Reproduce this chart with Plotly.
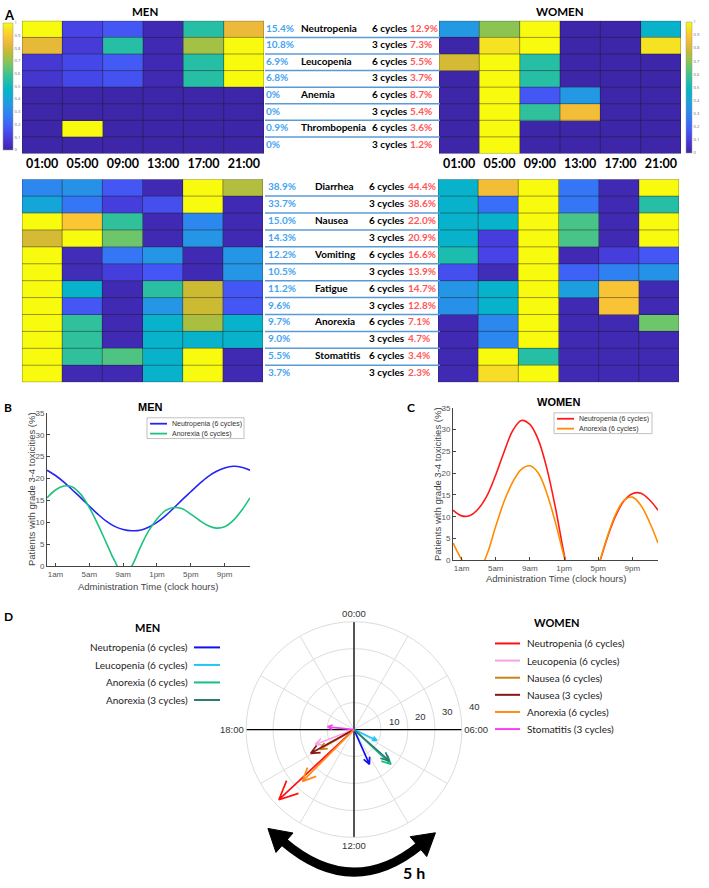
import math
import plotly.graph_objects as go

W, H = 709, 888

# ---------------- data ----------------
times = ["01:00", "05:00", "09:00", "13:00", "17:00", "21:00"]

men_top = [
    [1.00, 0.12, 0.17, 0.02, 0.55, 0.84],
    [0.83, 0.09, 0.55, 0.02, 0.73, 1.00],
    [0.08, 0.13, 0.18, 0.02, 0.55, 1.00],
    [0.07, 0.13, 0.16, 0.02, 0.55, 1.00],
    [0.00, 0.00, 0.00, 0.00, 0.00, 0.00],
    [0.00, 0.00, 0.00, 0.00, 0.00, 0.00],
    [0.00, 1.00, 0.00, 0.00, 0.00, 0.00],
    [0.00, 0.00, 0.00, 0.00, 0.00, 0.00],
]
women_top = [
    [0.36, 0.70, 1.00, 0.00, 0.00, 0.46],
    [0.00, 0.95, 1.00, 0.00, 0.00, 0.95],
    [0.80, 1.00, 0.55, 0.00, 0.00, 0.00],
    [0.00, 1.00, 0.55, 0.00, 0.00, 0.00],
    [0.00, 1.00, 0.17, 0.36, 0.00, 0.00],
    [0.00, 1.00, 0.57, 0.86, 0.00, 0.00],
    [0.00, 1.00, 0.00, 0.00, 0.00, 0.00],
    [0.00, 1.00, 0.00, 0.00, 0.00, 0.00],
]
men_bot = [
    [0.30, 0.34, 0.17, 0.02, 1.00, 0.75],
    [0.41, 0.25, 0.10, 0.15, 1.00, 0.02],
    [1.00, 0.89, 0.57, 0.02, 0.30, 0.02],
    [0.80, 1.00, 0.66, 0.02, 0.35, 0.02],
    [1.00, 0.03, 0.25, 0.35, 0.02, 0.35],
    [1.00, 0.03, 0.10, 0.17, 0.02, 0.35],
    [1.00, 0.46, 0.02, 0.56, 0.79, 0.17],
    [1.00, 0.17, 0.02, 0.35, 0.79, 0.17],
    [1.00, 0.57, 0.02, 0.46, 0.74, 0.46],
    [1.00, 0.57, 0.02, 0.46, 0.46, 0.46],
    [1.00, 0.57, 0.62, 0.46, 1.00, 0.02],
    [1.00, 0.02, 0.02, 0.46, 1.00, 0.02],
]
women_bot = [
    [0.46, 0.86, 1.00, 0.25, 0.02, 1.00],
    [0.46, 0.23, 1.00, 0.25, 0.02, 0.55],
    [0.46, 0.46, 1.00, 0.61, 0.02, 1.00],
    [0.46, 0.10, 1.00, 0.61, 0.02, 1.00],
    [0.53, 0.12, 1.00, 0.02, 0.10, 0.17],
    [0.15, 0.03, 1.00, 0.20, 0.28, 0.34],
    [0.35, 0.46, 1.00, 0.38, 0.88, 0.02],
    [0.33, 0.46, 1.00, 0.02, 0.88, 0.02],
    [0.02, 0.30, 1.00, 0.02, 0.02, 0.66],
    [0.02, 0.30, 1.00, 0.02, 0.02, 0.02],
    [0.02, 1.00, 0.55, 0.02, 0.02, 0.02],
    [0.02, 0.94, 1.00, 0.02, 0.02, 0.02],
]

top_names = ["Neutropenia", "", "Leucopenia", "", "Anemia", "", "Thrombopenia", ""]
top_cycles = ["6 cycles", "3 cycles"] * 4
men_top_pct = ["15.4%", "10.8%", "6.9%", "6.8%", "0%", "0%", "0.9%", "0%"]
women_top_pct = ["12.9%", "7.3%", "5.5%", "3.7%", "8.7%", "5.4%", "3.6%", "1.2%"]

bot_names = ["Diarrhea", "", "Nausea", "", "Vomiting", "", "Fatigue", "", "Anorexia", "", "Stomatitis", ""]
bot_cycles = ["6 cycles", "3 cycles"] * 6
men_bot_pct = ["38.9%", "33.7%", "15.0%", "14.3%", "12.2%", "10.5%", "11.2%", "9.6%", "9.7%", "9.0%", "5.5%", "3.7%"]
women_bot_pct = ["44.4%", "38.6%", "22.0%", "20.9%", "16.6%", "13.9%", "14.7%", "12.8%", "7.1%", "4.7%", "3.4%", "2.3%"]

cb_ticks = [0, 0.1, 0.2, 0.3, 0.4, 0.5, 0.6, 0.7, 0.8, 0.9, 1]
cb_text = ["0", "0.1", "0.2", "0.3", "0.4", "0.5", "0.6", "0.7", "0.8", "0.9", "1"]

# Panel B / C curves (hourly)
hours = list(range(25))
clock_ticks = [1, 5, 9, 13, 17, 21]
clock_text = ["1am", "5am", "9am", "1pm", "5pm", "9pm"]
men_neutropenia = [21.9, 20.7, 19.2, 17.4, 15.6, 13.7, 11.9, 10.3, 9.1, 8.4, 8.1, 8.2, 8.9,
                   10.0, 11.5, 13.3, 15.2, 17.0, 18.8, 20.4, 21.6, 22.4, 22.8, 22.6, 21.9]
men_anorexia = [15.6, 17.4, 18.3, 18.1, 16.4, 13.4, 9.6, 5.4, 1.2, -1.8, 0.0, 4.2, 8.0,
                10.8, 12.7, 13.4, 13.1, 11.9, 10.5, 9.3, 8.7, 9.0, 10.4, 12.7, 15.6]
women_neutropenia = [11.5, 10.2, 10.3, 11.9, 14.9, 19.6, 25.0, 29.8, 32.1, 31.2, 27.6, 21.0, 12.0,
                     1.5, -7.0, -10.0, -7.0, -1.5, 4.8, 10.0, 13.6, 15.3, 15.4, 13.9, 11.5]
women_anorexia = [4.0, 0.2, -2.6, -2.4, 1.5, 7.8, 13.6, 18.0, 20.9, 21.7, 20.0, 15.3, 8.6,
                  0.9, -6.0, -9.0, -7.0, -1.3, 5.0, 10.4, 13.7, 14.5, 12.6, 8.8, 4.0]

# Panel D vectors (length %, acrophase clock hours)
men_labels = ["Neutropenia (6 cycles)", "Leucopenia (6 cycles)", "Anorexia (6 cycles)", "Anorexia (3 cycles)"]
men_colors = ["#1010F5", "#22C4FA", "#17BD84", "#2B7D74"]
men_r = [14.1, 9.4, 18.8, 17.5]
men_hour = [10.4, 7.7, 8.88, 8.77]

women_labels = ["Neutropenia (6 cycles)", "Leucopenia (6 cycles)", "Nausea (6 cycles)",
                "Nausea (3 cycles)", "Anorexia (6 cycles)", "Stomatitis (3 cycles)"]
women_colors = ["#FF1010", "#F6A3E6", "#C8831C", "#8A1616", "#FF8A1A", "#F542F0"]
women_r = [38.1, 15.4, 14.6, 18.3, 27.1, 9.8]
women_hour = [15.13, 16.6, 15.99, 16.08, 14.99, 18.4]

radial_ticks = [10, 20, 30, 40]
angle_ticks = {0: "00:00", 90: "06:00", 180: "12:00", 270: "18:00"}

# ---------------- helpers ----------------
def fx(p):
    return p / W

def fy(p):
    return 1 - p / H

FONT_A = "Lato"
FONT_B = "Liberation Sans"

parula = [
    [0.00, "#3E26A8"], [0.06, "#4533C8"], [0.12, "#4743E6"], [0.18, "#435AF5"],
    [0.24, "#3672F8"], [0.30, "#2C87EE"], [0.36, "#2398E3"], [0.42, "#11A9D6"],
    [0.48, "#03B6C6"], [0.54, "#21BDAA"], [0.60, "#40C38E"], [0.66, "#6DC76A"],
    [0.72, "#9CC247"], [0.78, "#C7BA32"], [0.84, "#EDB93A"], [0.90, "#FDC831"],
    [0.95, "#F5E222"], [1.00, "#F9FB0E"],
]

fig = go.Figure()
layout = {}
annotations = []
shapes = []


def ann(text, x, y, size, color="black", xanchor="center", family=FONT_A, angle=0, yanchor="middle"):
    annotations.append(dict(text=text, x=fx(x), y=fy(y), xref="paper", yref="paper", showarrow=False,
                            xanchor=xanchor, yanchor=yanchor, textangle=angle,
                            font=dict(size=size, color=color, family=family)))


def ax_ids(i):
    s = "" if i == 1 else str(i)
    return "x" + s, "y" + s, "xaxis" + s, "yaxis" + s


def heat(i, z, xd, yd, show_ticks, colorbar=None):
    xid, yid, xk, yk = ax_ids(i)
    nr, nc = len(z), len(z[0])
    fig.add_trace(go.Heatmap(z=z, x=list(range(nc)), y=list(range(nr)), colorscale=parula,
                             zmin=0, zmax=1, showscale=colorbar is not None,
                             colorbar=colorbar, xaxis=xid, yaxis=yid, hoverinfo="skip"))
    xs, ys = [], []
    for r in range(nr + 1):
        xs += [-0.5, nc - 0.5, None]
        ys += [r - 0.5, r - 0.5, None]
    for c in range(nc + 1):
        xs += [c - 0.5, c - 0.5, None]
        ys += [-0.5, nr - 0.5, None]
    fig.add_trace(go.Scatter(x=xs, y=ys, mode="lines", line=dict(color="rgba(25,25,25,0.55)", width=0.8),
                             xaxis=xid, yaxis=yid, hoverinfo="skip", showlegend=False))
    layout[xk] = dict(domain=[fx(xd[0]), fx(xd[1])], range=[-0.5, nc - 0.5], anchor=yid,
                      showgrid=False, zeroline=False, ticks="",
                      showticklabels=show_ticks, tickvals=list(range(nc)),
                      ticktext=["<b>%s</b>" % t for t in times], ticklabelstandoff=1,
                      tickfont=dict(size=12.5, color="black", family=FONT_A))
    layout[yk] = dict(domain=[fy(yd[1]), fy(yd[0])], range=[nr - 0.5, -0.5], anchor=xid,
                      showgrid=False, zeroline=False, showticklabels=False, ticks="")


cb_common = dict(tickvals=cb_ticks, ticktext=cb_text, tickfont=dict(size=4, color="#666"),
                 outlinewidth=0.5, outlinecolor="#999", ticks="", xpad=0, ypad=0,
                 lenmode="fraction", thicknessmode="pixels", xanchor="left", yanchor="top")

heat(1, men_top, (22, 264), (17, 151), True,
     dict(x=fx(3), y=fy(19), len=(147 - 19) / H, thickness=10, **cb_common))
heat(2, women_top, (439, 681), (17, 151), True,
     dict(x=fx(686), y=fy(18), len=(150 - 18) / H, thickness=6, **cb_common))
heat(3, men_bot, (22, 263), (177, 382), False)
heat(4, women_bot, (438, 679), (177, 382), False)


def table(i, yd, names, cycles, mpct, wpct, cols):
    xid, yid, xk, yk = ax_ids(i)
    n = len(names)
    rows = list(range(n))
    lx = []
    ly = []
    for k in range(n - 1):
        lx += [265, 440, None]
        ly += [k + 0.5, k + 0.5, None]
    fig.add_trace(go.Scatter(x=lx, y=ly, mode="lines", line=dict(color="#5B9BD5", width=1.5),
                             xaxis=xid, yaxis=yid, hoverinfo="skip", showlegend=False))
    specs = [(mpct, cols[0], "#45A3F2"), (names, cols[1], "black"),
             (cycles, cols[2], "black"), (wpct, cols[3], "#FF5757")]
    for texts, xc, color in specs:
        fig.add_trace(go.Scatter(x=[xc] * n, y=rows, mode="text",
                                 text=["<b>%s</b>" % t for t in texts],
                                 textposition="middle right", cliponaxis=False,
                                 textfont=dict(size=10, color=color, family=FONT_A),
                                 xaxis=xid, yaxis=yid, hoverinfo="skip", showlegend=False))
    layout[xk] = dict(domain=[fx(250), fx(450)], range=[250, 450], anchor=yid, visible=False)
    layout[yk] = dict(domain=[fy(yd[1]), fy(yd[0])], range=[n - 0.5, -0.5], anchor=xid, visible=False)


table(5, (17, 151), top_names, top_cycles, men_top_pct, women_top_pct, (266, 301, 372, 410))
table(6, (177, 382), bot_names, bot_cycles, men_bot_pct, women_bot_pct, (268, 315, 369, 408))

# ---- panel A labels
ann("<b>A</b>", 9, 11, 13)
ann("<b>MEN</b>", 145, 8, 11.5)
ann("<b>WOMEN</b>", 560, 8, 11.5)


# ---- panels B, C
def line_panel(i, xd, yd, series):
    xid, yid, xk, yk = ax_ids(i)
    for vals, color in series:
        fig.add_trace(go.Scatter(x=hours, y=vals, mode="lines", line=dict(color=color, width=1.6, shape="spline"),
                                 xaxis=xid, yaxis=yid, hoverinfo="skip", showlegend=False))
    axcommon = dict(showgrid=False, zeroline=False, showline=True, linecolor="#444", linewidth=0.8,
                    ticks="inside", ticklen=3, tickcolor="#444",
                    tickfont=dict(size=8, color="#555", family=FONT_B))
    layout[xk] = dict(domain=[fx(xd[0]), fx(xd[1])], range=[0, 24], anchor=yid,
                      tickvals=clock_ticks, ticktext=clock_text, **axcommon)
    layout[yk] = dict(domain=[fy(yd[1]), fy(yd[0])], range=[0, 35], dtick=5, anchor=xid, **axcommon)


line_panel(7, (47, 250), (413, 568), [(men_neutropenia, "#2424F8"), (men_anorexia, "#1DC27E")])
line_panel(8, (453, 658), (408, 562), [(women_neutropenia, "#FF1A1A"), (women_anorexia, "#FF8C00")])

ann("<b>B</b>", 8, 408, 12)
ann("<b>MEN</b>", 150, 407, 11, family=FONT_B)
ann("<b>C</b>", 411, 408, 12)
ann("<b>WOMEN</b>", 558, 402, 11, family=FONT_B)
ytitle = "Patients with grade 3-4 toxicities (%)"
xtitle = "Administration Time (clock hours)"
ann(ytitle, 31, 490, 9.5, color="#444", family=FONT_B, angle=-90)
ann(ytitle, 437, 485, 9.5, color="#444", family=FONT_B, angle=-90)
ann(xtitle, 148, 588, 9.5, color="#444", family=FONT_B)
ann(xtitle, 556, 580, 9.5, color="#444", family=FONT_B)


def small_legend(box, entries):
    x0, y0, x1, y1 = box
    shapes.append(dict(type="rect", xref="paper", yref="paper", x0=fx(x0), x1=fx(x1), y0=fy(y1), y1=fy(y0),
                       line=dict(color="#999", width=0.6), fillcolor="white", layer="above"))
    for k, (label, color) in enumerate(entries):
        yy = y0 + 6 + k * 10
        shapes.append(dict(type="line", xref="paper", yref="paper", x0=fx(x0 + 3), x1=fx(x0 + 20),
                           y0=fy(yy), y1=fy(yy), line=dict(color=color, width=1.8), layer="above"))
        ann(label, x0 + 23, yy, 7, color="#333", xanchor="left", family=FONT_B)


small_legend((147, 418, 244, 439), [("Neutropenia (6 cycles)", "#2424F8"), ("Anorexia (6 cycles)", "#1DC27E")])
small_legend((554, 413, 652, 434), [("Neutropenia (6 cycles)", "#FF1A1A"), ("Anorexia (6 cycles)", "#FF8C00")])

# ---- panel D polar
PCX, PCY, PRAD = 354, 733, 109   # polar centre / radius in pixels (layout)
fig.add_trace(go.Scatterpolar(r=[40, 0, 40], theta=[0, 0, 180], mode="lines",
                              line=dict(color="black", width=1.3), hoverinfo="skip", showlegend=False))
fig.add_trace(go.Scatterpolar(r=[40, 0, 40], theta=[90, 90, 270], mode="lines",
                              line=dict(color="black", width=1.3), hoverinfo="skip", showlegend=False))


def arrow(r, hour, color):
    th = math.radians(hour * 15)
    tx, ty = r * math.sin(th), r * math.cos(th)
    ux, uy = tx / r, ty / r
    L = 0.2 * r
    pts_r, pts_t = [0, r], [hour * 15, hour * 15]
    for sgn in (1, -1):
        a = math.radians(25) * sgn
        dx = ux * math.cos(a) - uy * math.sin(a)
        dy = ux * math.sin(a) + uy * math.cos(a)
        bx, by = tx - L * dx, ty - L * dy
        pts_r += [math.hypot(bx, by), r]
        pts_t += [math.degrees(math.atan2(bx, by)) % 360, hour * 15]
    fig.add_trace(go.Scatterpolar(r=pts_r[:-1], theta=pts_t[:-1], mode="lines",
                                  line=dict(color=color, width=1.7), hoverinfo="skip", showlegend=False))


for r, h, c in zip(men_r, men_hour, men_colors):
    arrow(r, h, c)
for r, h, c in zip(women_r, women_hour, women_colors):
    arrow(r, h, c)

# radial tick labels, placed just outside each ring at ~79 degrees
for t in radial_ticks:
    rp = (t + 5) / 40 * PRAD
    a = math.radians(79)
    ann(str(t), PCX + rp * math.sin(a), PCY - rp * math.cos(a), 9.5, color="#333", family=FONT_B)

layout["polar"] = dict(
    domain=dict(x=[fx(PCX - PRAD), fx(PCX + PRAD)], y=[fy(PCY + PRAD), fy(PCY - PRAD)]),
    bgcolor="white",
    angularaxis=dict(rotation=90, direction="clockwise", tickvals=list(range(0, 360, 30)),
                     ticktext=[angle_ticks.get(a, "") for a in range(0, 360, 30)],
                     showline=True, linecolor="#DDDDDD", linewidth=1, gridcolor="#DDDDDD",
                     ticks="", tickfont=dict(size=9.5, color="#333", family=FONT_B)),
    radialaxis=dict(range=[0, 40], tickvals=radial_ticks, showticklabels=False, ticks="",
                    showline=False, gridcolor="#DDDDDD"),
)

ann("<b>D</b>", 8, 619, 12)
ann("<b>MEN</b>", 147, 630, 11)
ann("<b>WOMEN</b>", 557, 625, 11)
for k, (label, color) in enumerate(zip(men_labels, men_colors)):
    yy = 650 + k * 17.7
    ann(label, 190, yy, 10, color="#222", xanchor="right")
    shapes.append(dict(type="line", xref="paper", yref="paper", x0=fx(194), x1=fx(220), y0=fy(yy), y1=fy(yy),
                       line=dict(color=color, width=2)))
for k, (label, color) in enumerate(zip(women_labels, women_colors)):
    yy = 646 + k * 17.3
    ann(label, 525, yy, 10, color="#222", xanchor="left")
    shapes.append(dict(type="line", xref="paper", yref="paper", x0=fx(495), x1=fx(520), y0=fy(yy), y1=fy(yy),
                       line=dict(color=color, width=2)))

# curved double arrow "5 h"
S, C, E = (283, 846), (352, 906), (420, 850)
shapes.append(dict(type="path", xref="paper", yref="paper",
                   path="M %f,%f Q %f,%f %f,%f" % (fx(S[0]), fy(S[1]), fx(C[0]), fy(C[1]), fx(E[0]), fy(E[1])),
                   line=dict(color="black", width=9), fillcolor="rgba(0,0,0,0)"))


def head(P, Q):
    ux, uy = P[0] - Q[0], P[1] - Q[1]
    n = math.hypot(ux, uy)
    ux, uy = ux / n, uy / n
    tip = (P[0] + 20 * ux, P[1] + 20 * uy)
    bc = (P[0] - 2 * ux, P[1] - 2 * uy)
    px_, py_ = -uy, ux
    b1 = (bc[0] + 13 * px_, bc[1] + 13 * py_)
    b2 = (bc[0] - 13 * px_, bc[1] - 13 * py_)
    pts = [tip, b1, b2]
    path = "M " + " L ".join("%f,%f" % (fx(a), fy(b)) for a, b in pts) + " Z"
    shapes.append(dict(type="path", xref="paper", yref="paper", path=path,
                       line=dict(color="black", width=1), fillcolor="black"))


head(S, C)
head(E, C)
ann("<b>5 h</b>", 414, 877, 16)

fig.update_layout(width=W, height=H, margin=dict(l=0, r=0, t=0, b=0),
                  paper_bgcolor="white", plot_bgcolor="rgba(0,0,0,0)", showlegend=False,
                  annotations=annotations, shapes=shapes, **layout)

fig.write_html("out.html", config={"displayModeBar": False},
               post_script="document.body.style.margin='0px';")
